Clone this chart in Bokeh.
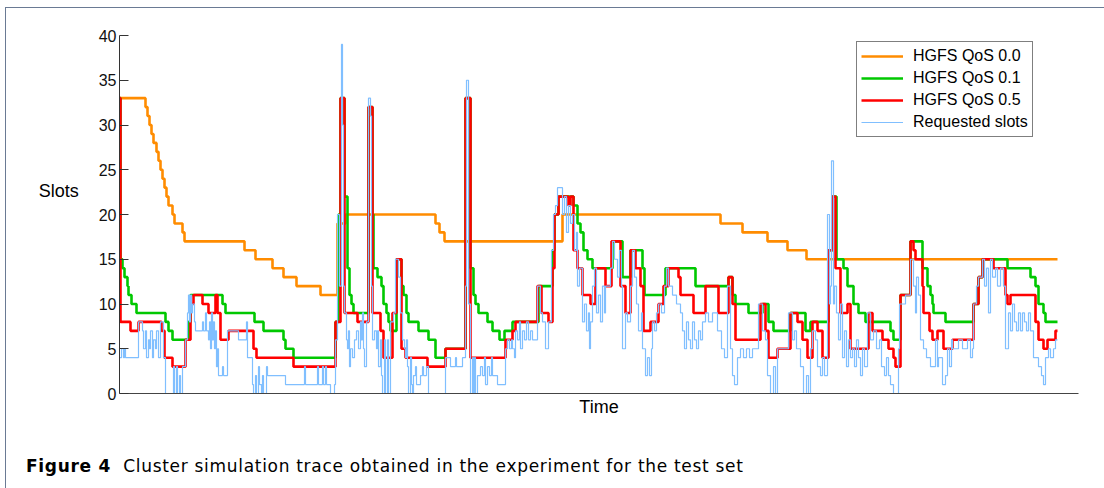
from bokeh.plotting import figure
from bokeh.models import Range1d, FixedTicker, Legend, LegendItem, Div
from bokeh.layouts import column
from bokeh.embed import file_html
from bokeh.resources import INLINE

# ---------------- data (time in arbitrary units, slots) ----------------
series_names = ["HGFS QoS 0.0", "HGFS QoS 0.1", "HGFS QoS 0.5", "Requested slots"]
y_ticks = [0, 5, 10, 15, 20, 25, 30, 35, 40]
t_end = 938

qos00_t = [0, 26, 28, 30, 32, 34, 37, 39, 41, 43, 45, 47, 49, 53, 55, 63, 65, 125, 136, 153, 164, 177,
           201, 218, 226, 316, 320, 325, 443, 601, 623, 648, 668, 687]
qos00_v = [33, 32, 31, 30, 29, 28, 27, 26, 25, 24, 23, 22, 21, 20, 19, 18, 17, 16, 15, 14, 13, 12,
           11, 19, 20, 19, 18, 17, 20, 19, 18, 17, 16, 15]

qos01_t = [0, 1, 3, 5, 8, 9, 12, 17, 46, 49, 53, 69, 71, 103, 106, 135, 144, 164, 166, 174, 216, 219,
           221, 225, 228, 230, 232, 234, 249, 253, 254, 258, 262, 264, 267, 269, 271, 277, 282, 284, 287,
           289, 299, 309, 316, 326, 346, 351, 354, 356, 359, 368, 373, 380, 385, 393, 419, 433, 435, 439,
           454, 458, 461, 464, 468, 473, 493, 503, 511, 523, 525, 546, 576, 609, 613, 616, 629, 643, 649,
           654, 671, 686, 691, 709, 713, 717, 724, 728, 734, 739, 746, 771, 774, 781, 791, 803, 808, 811,
           813, 814, 826, 854, 859, 863, 888, 911, 916, 919, 924, 926]
qos01_v = [33, 15, 14, 13, 12, 11, 10, 9, 8, 7, 6, 8, 11, 10, 9, 8, 7, 6, 5, 4, 8, 20,
           33, 22, 14, 11, 10, 9, 32, 20, 14, 13, 12, 10, 9, 8, 7, 15, 12, 11, 9,
           8, 7, 6, 4, 5, 33, 14, 11, 10, 9, 8, 7, 6, 7, 8, 12, 16, 20, 22,
           21, 19, 18, 16, 15, 14, 17, 13, 16, 14, 11, 14, 12, 13, 11, 10, 9, 10, 8,
           7, 9, 7, 8, 16, 22, 15, 14, 12, 10, 9, 8, 7, 6, 11, 17, 14, 12, 11,
           10, 9, 8, 10, 13, 15, 14, 13, 12, 10, 9, 8]

qos05_t = [0, 1, 11, 19, 42, 45, 53, 66, 71, 74, 83, 89, 96, 98, 101, 109, 134, 137, 174, 216, 221, 225,
           238, 249, 253, 261, 264, 273, 277, 282, 286, 308, 326, 346, 351, 386, 393, 396, 418, 422, 429,
           433, 435, 439, 449, 451, 454, 458, 463, 471, 476, 486, 492, 501, 506, 511, 516, 521, 524, 531,
           539, 544, 549, 559, 561, 574, 586, 599, 609, 613, 616, 641, 646, 649, 658, 671, 678, 683, 688,
           693, 698, 703, 709, 713, 716, 721, 728, 731, 749, 753, 763, 769, 774, 776, 781, 791, 794, 796,
           803, 804, 810, 813, 818, 824, 833, 854, 859, 863, 874, 886, 888, 891, 916, 919, 924, 928, 936]
qos05_v = [33, 8, 7, 8, 7, 4, 3, 6, 10, 11, 10, 9, 11, 9, 6, 7, 5, 4, 3, 8, 33, 9,
           8, 32, 9, 7, 4, 9, 15, 5, 4, 3, 5, 33, 4, 6, 7, 8, 12, 9, 8,
           14, 20, 22, 21, 22, 16, 14, 11, 10, 14, 12, 17, 12, 9, 16, 14, 12, 7, 8,
           10, 12, 14, 13, 11, 9, 12, 9, 13, 10, 6, 10, 7, 4, 5, 9, 8, 6, 4,
           8, 7, 4, 16, 22, 14, 9, 10, 5, 9, 7, 6, 5, 4, 3, 11, 17, 16, 15,
           12, 9, 7, 6, 7, 5, 6, 10, 13, 15, 14, 11, 10, 11, 8, 6, 5, 6, 7]

req_t = [0, 2, 4, 5, 6, 19, 23, 24, 26, 27, 29, 30, 31, 33, 34, 36, 37, 39, 41, 44, 46, 54, 55, 57,
         58, 60, 61, 63, 66, 68, 69, 70, 71, 72, 73, 75, 76, 83, 84, 86, 87, 89, 90, 91, 92, 93, 94,
         95, 96, 97, 98, 99, 103, 104, 108, 119, 127, 128, 133, 134, 136, 137, 139, 140, 142, 143, 144,
         147, 148, 166, 185, 186, 198, 199, 203, 204, 206, 207, 211, 215, 216, 218, 220, 222, 223, 224,
         225, 227, 228, 229, 230, 231, 233, 235, 237, 239, 241, 242, 243, 244, 245, 247, 249, 251, 252,
         253, 255, 257, 258, 259, 261, 262, 263, 265, 266, 268, 269, 271, 274, 276, 279, 281, 283, 285,
         286, 287, 288, 289, 291, 292, 293, 294, 296, 297, 301, 303, 304, 307, 309, 326, 331, 336, 337,
         343, 346, 347, 349, 351, 353, 354, 355, 356, 358, 361, 363, 365, 366, 368, 370, 372, 373, 378,
         386, 388, 390, 392, 393, 395, 396, 398, 400, 401, 403, 405, 407, 409, 411, 413, 418, 421, 423,
         426, 429, 432, 434, 436, 438, 443, 445, 447, 449, 451, 453, 455, 457, 458, 460, 463, 465, 467,
         469, 470, 471, 473, 475, 477, 479, 481, 483, 485, 486, 491, 493, 495, 498, 500, 502, 503, 506,
         508, 511, 513, 515, 517, 519, 522, 523, 526, 528, 530, 532, 533, 535, 537, 539, 542, 545, 547,
         549, 553, 557, 561, 563, 565, 567, 569, 571, 573, 575, 577, 579, 581, 583, 586, 589, 593, 598,
         602, 605, 608, 611, 613, 615, 618, 621, 624, 627, 630, 633, 639, 643, 646, 648, 651, 654, 656,
         658, 669, 673, 675, 677, 681, 684, 687, 689, 691, 693, 696, 698, 701, 703, 705, 708, 710, 711,
         712, 714, 715, 717, 719, 721, 723, 725, 727, 729, 731, 733, 735, 737, 739, 741, 743, 745, 748,
         751, 754, 757, 760, 762, 765, 767, 769, 771, 774, 779, 780, 786, 791, 794, 796, 797, 799, 801,
         804, 807, 811, 816, 818, 819, 823, 826, 828, 830, 832, 833, 839, 843, 848, 851, 853, 854, 857,
         859, 863, 865, 867, 869, 871, 873, 876, 878, 881, 884, 886, 889, 891, 893, 895, 897, 899, 901,
         903, 905, 907, 909, 911, 914, 919, 922, 924, 926, 929, 931, 934, 936]
req_v = [4, 5, 4, 5, 4, 8, 7, 5, 7, 4, 6, 5, 7, 4, 6, 5, 7, 4, 8, 4, 0, 3, 0, 3,
         0, 2, 0, 3, 6, 9, 11, 8, 11, 9, 10, 8, 7, 8, 7, 9, 7, 6, 8, 5, 9, 6, 8,
         5, 7, 3, 5, 2, 3, 2, 7, 6, 8, 4, 1, 0, 2, 0, 3, 1, 0, 2, 0,
         3, 2, 1, 3, 1, 3, 1, 3, 1, 3, 1, 0, 1, 6, 20, 12, 39, 30, 12,
         9, 6, 5, 7, 3, 5, 4, 6, 7, 5, 8, 6, 9, 5, 3, 8, 33, 31, 12,
         6, 7, 5, 7, 3, 6, 2, 0, 6, 0, 6, 0, 8, 9, 15, 13, 9, 6, 5,
         4, 6, 3, 0, 4, 1, 0, 2, 3, 1, 2, 3, 2, 3, 0, 4, 3, 4, 3,
         4, 12, 35, 10, 0, 4, 0, 4, 0, 2, 3, 2, 4, 1, 3, 2, 4, 2, 1,
         5, 6, 5, 6, 5, 4, 7, 6, 8, 5, 7, 6, 8, 6, 7, 6, 12, 9, 8,
         5, 8, 16, 20, 21, 23, 20, 22, 18, 21, 19, 20, 16, 18, 12, 14, 8, 10, 7,
         9, 5, 8, 12, 14, 9, 11, 8, 12, 9, 12, 14, 17, 15, 13, 16, 12, 5, 9,
         8, 12, 16, 13, 10, 7, 9, 5, 2, 4, 2, 5, 8, 7, 9, 10, 9, 12, 14,
         12, 11, 10, 9, 7, 5, 8, 6, 5, 8, 6, 5, 7, 6, 8, 9, 8, 9, 7,
         5, 4, 12, 5, 2, 1, 4, 5, 4, 5, 4, 5, 10, 7, 6, 2, 0, 3, 0,
         5, 9, 6, 7, 5, 3, 0, 2, 0, 5, 7, 6, 3, 2, 4, 2, 20, 10,
         12, 26, 10, 12, 9, 6, 10, 4, 7, 3, 6, 4, 5, 3, 6, 4, 2, 5, 3, 9,
         6, 7, 5, 6, 3, 2, 4, 2, 1, 0, 5, 10, 11, 15, 12, 9, 13, 11, 6,
         5, 4, 3, 6, 3, 4, 1, 2, 5, 3, 6, 5, 6, 5, 6, 4, 5, 10, 12,
         13, 15, 12, 14, 9, 15, 13, 14, 12, 14, 12, 5, 9, 7, 10, 8, 7, 9, 7,
         9, 8, 7, 9, 7, 4, 3, 2, 1, 4, 5, 4, 5, 6]

caption_bold = "Figure 4"
caption_text = "Cluster simulation trace obtained in the experiment for the test set"

colors = ["#ff8c00", "#00c800", "#ff0000", "#80bfff"]
widths = [2.6, 2.6, 2.6, 1.2]

all_t = [qos00_t, qos01_t, qos05_t, req_t]
all_v = [qos00_v, qos01_v, qos05_v, req_v]
for tt, vv in zip(all_t, all_v):
    assert len(tt) == len(vv), (len(tt), len(vv))

# ---------------- figure ----------------
p = figure(width=1092, height=435, output_backend="svg", toolbar_location=None,
           x_range=Range1d(0, 959), y_range=Range1d(0, 40),
           min_border_left=113, min_border_right=20, min_border_top=27, min_border_bottom=50,
           background_fill_color="white", border_fill_color="white")
p.outline_line_color = None
p.grid.visible = False

items = []
for name, tt, vv, c, w in zip(series_names, all_t, all_v, colors, widths):
    r = p.step(x=list(tt) + [t_end], y=list(vv) + [vv[-1]], mode="after",
               line_color=c, line_width=w)
    items.append(LegendItem(label=name, renderers=[r]))

# axes
p.yaxis.ticker = FixedTicker(ticks=y_ticks)
p.yaxis.major_tick_in = 9
p.yaxis.major_tick_out = 0
p.yaxis.minor_tick_line_color = None
p.yaxis.major_label_standoff = 3
p.yaxis.major_label_text_font = "Liberation Sans"
p.yaxis.major_label_text_font_size = "16px"
p.yaxis.major_label_text_color = "#111111"
p.yaxis.axis_line_color = "#333333"
p.yaxis.major_tick_line_color = "#333333"
p.yaxis.axis_label = "Slots\n \n "
p.yaxis.axis_label_orientation = "horizontal"
p.yaxis.axis_label_standoff = 17
p.yaxis.axis_label_text_font = "Liberation Sans"
p.yaxis.axis_label_text_font_size = "18px"
p.yaxis.axis_label_text_font_style = "normal"
p.yaxis.axis_label_text_color = "#000000"

p.xaxis.ticker = FixedTicker(ticks=[])
p.xaxis.major_tick_line_color = None
p.xaxis.minor_tick_line_color = None
p.xaxis.major_tick_out = 0
p.xaxis.major_label_standoff = 0
p.xaxis.major_label_text_font_size = "0px"
p.xaxis.axis_line_color = "#444444"
p.xaxis.axis_label = "Time"
p.xaxis.axis_label_standoff = 3
p.xaxis.axis_label_text_font = "Liberation Sans"
p.xaxis.axis_label_text_font_size = "18px"
p.xaxis.axis_label_text_font_style = "normal"
p.xaxis.axis_label_text_color = "#000000"

# legend (bottom-left corner given relative to the plot frame, in pixels)
legend = Legend(items=items, location=(737, 256), padding=4, spacing=2,
                glyph_width=42, glyph_height=20, label_height=20,
                label_standoff=10, label_text_font="Liberation Sans",
                label_text_font_size="16px", label_text_color="#000000",
                border_line_color="#000000", border_line_width=1,
                background_fill_color="white", background_fill_alpha=1.0)
p.add_layout(legend)

caption = Div(
    text=('<div style="padding:6px 0 0 15px; font-family:\'DejaVu Sans\'; font-size:17px; '
          'letter-spacing:0.7px; color:#000; white-space:nowrap;"><b>' + caption_bold +
          '</b>&nbsp;&nbsp;' + caption_text + '</div>'),
    width=1092, height=42)

layout = column(p, caption, spacing=0,
                styles={"margin-left": "5px", "margin-top": "7px",
                        "border-left": "1px solid #6a7a94", "border-top": "1px solid #6a7a94"})

open("out.html", "w").write(file_html(layout, INLINE))
